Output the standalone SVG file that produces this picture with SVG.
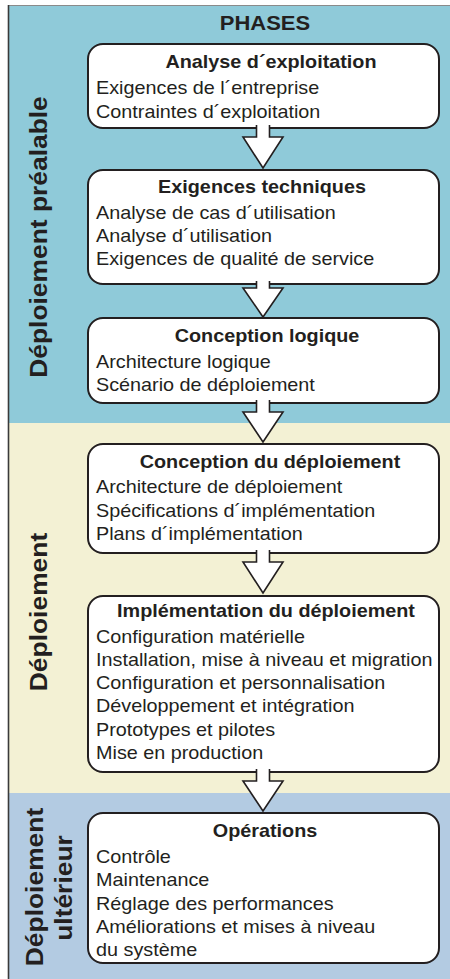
<svg xmlns="http://www.w3.org/2000/svg" width="450" height="979" viewBox="0 0 450 979">
  <style>
    .box { fill: #ffffff; stroke: #231f20; stroke-width: 2; }
    .arrow { fill: #ffffff; stroke: #231f20; stroke-width: 1.6; stroke-linejoin: miter; }
    .title { font-family: "Liberation Sans", Arial, sans-serif; font-weight: bold; font-size: 18px; fill: #231f20; text-anchor: middle; }
    .item { font-family: "Liberation Sans", Arial, sans-serif; font-size: 18px; fill: #231f20; }
    .band { font-family: "Liberation Sans", Arial, sans-serif; font-weight: bold; font-size: 24px; fill: #231f20; text-anchor: middle; }
  </style>

  <!-- phase bands -->
  <rect x="8" y="5" width="442" height="418" fill="#8fcad9"/>
  <rect x="8" y="423" width="442" height="370" fill="#f3f1d4"/>
  <rect x="8" y="793" width="442" height="186" fill="#b3cbe2"/>
  <line x1="8" y1="5.5" x2="450" y2="5.5" stroke="#8a8a8a" stroke-width="1.2"/>
  <line x1="8.5" y1="5" x2="8.5" y2="979" stroke="#3a3a3a" stroke-width="1.6"/>

  <!-- header -->
  <text class="title" transform="translate(265 30) scale(1.1 1)" x="0" y="0" style="font-size:20px">PHASES</text>

  <!-- band labels -->
  <text class="band" transform="translate(47 237) rotate(-90) scale(1.1 1)">Déploiement préalable</text>
  <text class="band" transform="translate(47 612) rotate(-90) scale(1.1 1)">Déploiement</text>
  <text class="band" transform="translate(43 887) rotate(-90) scale(1.1 1)">Déploiement</text>
  <text class="band" transform="translate(72 888) rotate(-90) scale(1.1 1)">ultérieur</text>

  <!-- phase nodes -->
  <g id="analyse-exploitation">
    <rect class="box" x="88" y="44" width="351" height="84" rx="15"/>
    <text class="title" transform="translate(271 68) scale(1.1 1)">Analyse d´exploitation</text>
    <g transform="translate(96 0) scale(1.1 1)">
      <text class="item" x="0" y="94">Exigences de l´entreprise</text>
      <text class="item" x="0" y="118">Contraintes d´exploitation</text>
    </g>
  </g>

  <g id="exigences-techniques">
    <rect class="box" x="88" y="170" width="351" height="114" rx="15"/>
    <text class="title" transform="translate(262 193) scale(1.1 1)">Exigences techniques</text>
    <g transform="translate(96 0) scale(1.1 1)">
      <text class="item" x="0" y="219">Analyse de cas d´utilisation</text>
      <text class="item" x="0" y="242">Analyse d´utilisation</text>
      <text class="item" x="0" y="265">Exigences de qualité de service</text>
    </g>
  </g>

  <g id="conception-logique">
    <rect class="box" x="88" y="318" width="351" height="85" rx="15"/>
    <text class="title" transform="translate(267 342) scale(1.1 1)">Conception logique</text>
    <g transform="translate(96 0) scale(1.1 1)">
      <text class="item" x="0" y="368">Architecture logique</text>
      <text class="item" x="0" y="391">Scénario de déploiement</text>
    </g>
  </g>

  <g id="conception-deploiement">
    <rect class="box" x="88" y="444" width="351" height="109" rx="15"/>
    <text class="title" transform="translate(270 468) scale(1.1 1)">Conception du déploiement</text>
    <g transform="translate(96 0) scale(1.1 1)">
      <text class="item" x="0" y="493">Architecture de déploiement</text>
      <text class="item" x="0" y="517">Spécifications d´implémentation</text>
      <text class="item" x="0" y="540">Plans d´implémentation</text>
    </g>
  </g>

  <g id="implementation-deploiement">
    <rect class="box" x="88" y="596" width="351" height="176" rx="15"/>
    <text class="title" transform="translate(266 617) scale(1.1 1)">Implémentation du déploiement</text>
    <g transform="translate(96 0) scale(1.1 1)">
      <text class="item" x="0" y="643">Configuration matérielle</text>
      <text class="item" x="0" y="666">Installation, mise à niveau et migration</text>
      <text class="item" x="0" y="689">Configuration et personnalisation</text>
      <text class="item" x="0" y="712">Développement et intégration</text>
      <text class="item" x="0" y="736">Prototypes et pilotes</text>
      <text class="item" x="0" y="759">Mise en production</text>
    </g>
  </g>

  <g id="operations">
    <rect class="box" x="88" y="813" width="351" height="150" rx="15"/>
    <text class="title" transform="translate(265 837) scale(1.1 1)">Opérations</text>
    <g transform="translate(96 0) scale(1.1 1)">
      <text class="item" x="0" y="863">Contrôle</text>
      <text class="item" x="0" y="886">Maintenance</text>
      <text class="item" x="0" y="910">Réglage des performances</text>
      <text class="item" x="0" y="933">Améliorations et mises à niveau</text>
      <text class="item" x="0" y="956">du système</text>
    </g>
  </g>

  <!-- block arrows between phases -->
  <g id="connectors">
    <polyline class="arrow" points="256.5,125 256.5,137 243,137 263,168 283,137 269.5,137 269.5,125"/>
    <polyline class="arrow" points="256.5,281 256.5,288 243,288 263,317 283,288 269.5,288 269.5,281"/>
    <polyline class="arrow" points="256.5,400 256.5,412 243,412 263,442 283,412 269.5,412 269.5,400"/>
    <polyline class="arrow" points="256.5,550 256.5,562 243,562 263,593 283,562 269.5,562 269.5,550"/>
    <polyline class="arrow" points="256.5,769 256.5,781 243,781 263,811 283,781 269.5,781 269.5,769"/>
  </g>
</svg>
